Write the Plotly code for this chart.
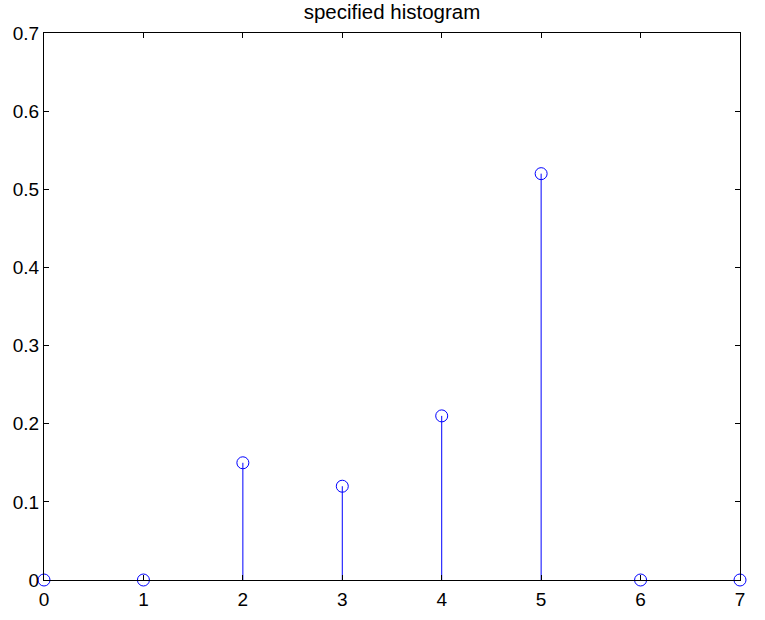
import plotly.graph_objects as go

categories = [0, 1, 2, 3, 4, 5, 6, 7]
values = [0, 0, 0.15, 0.12, 0.21, 0.52, 0, 0]
x_ticks = [0, 1, 2, 3, 4, 5, 6, 7]
y_ticks = [0, 0.1, 0.2, 0.3, 0.4, 0.5, 0.6, 0.7]
y_tick_labels = ["0", "0.1", "0.2", "0.3", "0.4", "0.5", "0.6", "0.7"]

stem_x, stem_y = [], []
for c, v in zip(categories, values):
    stem_x += [c, c, None]
    stem_y += [0, v, None]

fig = go.Figure()
fig.add_trace(go.Scatter(x=stem_x, y=stem_y, mode="lines",
                         line=dict(color="#0000ff", width=1), hoverinfo="skip"))
fig.add_trace(go.Scatter(x=categories, y=values, mode="markers", cliponaxis=False,
                         marker=dict(symbol="circle-open", size=12,
                                     color="#0000ff", line=dict(width=1))))

axis_font = dict(family="Liberation Sans, Arial, sans-serif", size=19, color="black")
fig.update_layout(
    width=765, height=620,
    margin=dict(l=44, r=25, t=33, b=40, autoexpand=False),
    paper_bgcolor="white", plot_bgcolor="white",
    showlegend=False,
    title=dict(text="specified histogram", x=(44 + 740) / 2 / 765, xanchor="center",
               y=1 - 12 / 620, yanchor="middle",
               font=dict(family="Liberation Sans, Arial, sans-serif", size=20.5, color="black")),
    xaxis=dict(range=[0, 7], tickvals=x_ticks, ticktext=[str(t) for t in x_ticks],
               showgrid=False, zeroline=False, showline=True, linecolor="black",
               linewidth=1, mirror="ticks", ticks="inside", ticklen=5,
               tickcolor="black", tickfont=axis_font, automargin=False,
               ticklabelstandoff=2),
    yaxis=dict(range=[0, 0.7], tickvals=y_ticks, ticktext=y_tick_labels,
               showgrid=False, zeroline=False, showline=True, linecolor="black",
               linewidth=1, mirror="ticks", ticks="inside", ticklen=5,
               tickcolor="black", tickfont=axis_font, automargin=False),
)
fig.write_html("out.html", config={"displayModeBar": False},
               post_script="document.body.style.margin='0px';")
